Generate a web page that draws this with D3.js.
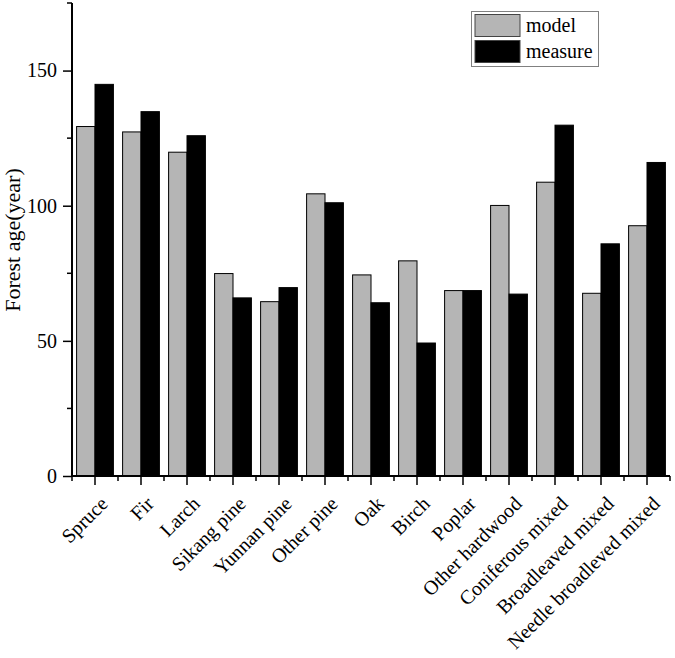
<!DOCTYPE html>
<html>
<head>
<meta charset="utf-8">
<script src="https://cdn.jsdelivr.net/npm/d3@7"></script>
<style>
  html, body { margin: 0; padding: 0; background: #fff; }
  svg { display: block; }
  text { font-family: "Liberation Serif", "Times New Roman", serif; fill: #000; }
</style>
</head>
<body>
<svg id="chart" width="675" height="658"></svg>
<script>
const categories = ["Spruce", "Fir", "Larch", "Sikang pine", "Yunnan pine", "Other pine", "Oak", "Birch", "Poplar", "Other hardwood", "Coniferous mixed", "Broadleaved mixed", "Needle broadleved mixed"];
const seriesNames = ["model", "measure"];
const modelValues = [129.3, 127.3, 119.8, 74.9, 64.5, 104.4, 74.4, 79.6, 68.6, 100.1, 108.7, 67.6, 92.6];
const measureValues = [144.9, 134.8, 125.9, 65.9, 69.7, 101.1, 64.1, 49.2, 68.6, 67.3, 129.8, 85.9, 116.0];
const yMajorTicks = [0, 50, 100, 150];
const yMinorTicks = [25, 75, 125, 175];
const yTitle = "Forest age(year)";
const colors = { model: "#b5b5b5", measure: "#000000" };

const svg = d3.select("#chart");
const plotLeft = 72, plotRight = 670, plotTop = 3, plotBottom = 476;

const x0 = d3.scaleBand().domain(categories).range([plotLeft, plotRight]).paddingInner(0).paddingOuter(0);
const x1 = d3.scaleBand().domain(seriesNames).range([0, x0.bandwidth()]).paddingInner(0).paddingOuter(0.25);
const y = d3.scaleLinear().domain([0, 175]).range([plotBottom, plotTop]);

const rows = categories.map((c, i) => ({ cat: c, model: modelValues[i], measure: measureValues[i] }));

// bars
const groups = svg.append("g").selectAll("g").data(rows).join("g")
  .attr("transform", d => `translate(${x0(d.cat)},0)`);
groups.selectAll("rect").data(d => seriesNames.map(s => ({ s, v: d[s] }))).join("rect")
  .attr("x", d => x1(d.s))
  .attr("width", x1.bandwidth())
  .attr("y", d => y(d.v))
  .attr("height", d => y(0) - y(d.v))
  .attr("fill", d => colors[d.s])
  .attr("stroke", "#000")
  .attr("stroke-width", 1);

// y axis
const yAxis = svg.append("g").attr("transform", `translate(${plotLeft},0)`);
yAxis.call(d3.axisLeft(y).tickValues(yMajorTicks).tickSize(9).tickPadding(6).tickFormat(d3.format("d")));
yAxis.append("g").selectAll("line").data(yMinorTicks).join("line")
  .attr("x1", -5).attr("x2", 0).attr("y1", d => y(d)).attr("y2", d => y(d))
  .attr("stroke", "#000").attr("stroke-width", 1.5);
yAxis.selectAll(".domain").attr("stroke-width", 2).attr("d", `M0,${plotTop}V${plotBottom}`);
yAxis.selectAll(".tick line").attr("stroke-width", 1.5);
yAxis.selectAll("text").style("font-size", "20px").style("font-family", "Liberation Serif");

// x axis
const xAxis = svg.append("g").attr("transform", `translate(0,${plotBottom})`);
xAxis.call(d3.axisBottom(x0).tickSize(9).tickFormat(""));
xAxis.selectAll(".domain").attr("stroke-width", 2).attr("d", `M${plotLeft},0H${plotRight}`);
xAxis.selectAll(".tick line").attr("stroke-width", 1.5);
const boundaries = categories.map(c => x0(c)).concat([plotRight]);
xAxis.append("g").selectAll("line").data(boundaries).join("line")
  .attr("x1", d => d).attr("x2", d => d).attr("y1", 0).attr("y2", 5)
  .attr("stroke", "#000").attr("stroke-width", 1.5);

// x labels
svg.append("g").selectAll("text").data(categories).join("text")
  .attr("transform", d => `translate(${x0(d) + x0.bandwidth() / 2 + 14},${plotBottom + 29}) rotate(-45)`)
  .attr("text-anchor", "end")
  .style("font-size", "20px")
  .text(d => d);

// y title
svg.append("text")
  .attr("transform", `translate(20,${(167 + 313) / 2}) rotate(-90)`)
  .attr("text-anchor", "middle")
  .style("font-size", "22px")
  .text(yTitle);

// legend
const lg = svg.append("g");
lg.append("rect").attr("x", 471.5).attr("y", 11.5).attr("width", 127).attr("height", 55)
  .attr("fill", "#fff").attr("stroke", "#808080").attr("stroke-width", 1);
seriesNames.forEach((s, i) => {
  lg.append("rect").attr("x", 475).attr("y", 14.5 + i * 26).attr("width", 45).attr("height", 22)
    .attr("fill", colors[s]).attr("stroke", "#444").attr("stroke-width", 1);
  lg.append("text").attr("x", 526).attr("y", 32 + i * 26).style("font-size", "20px").text(s);
});
</script>
</body>
</html>
